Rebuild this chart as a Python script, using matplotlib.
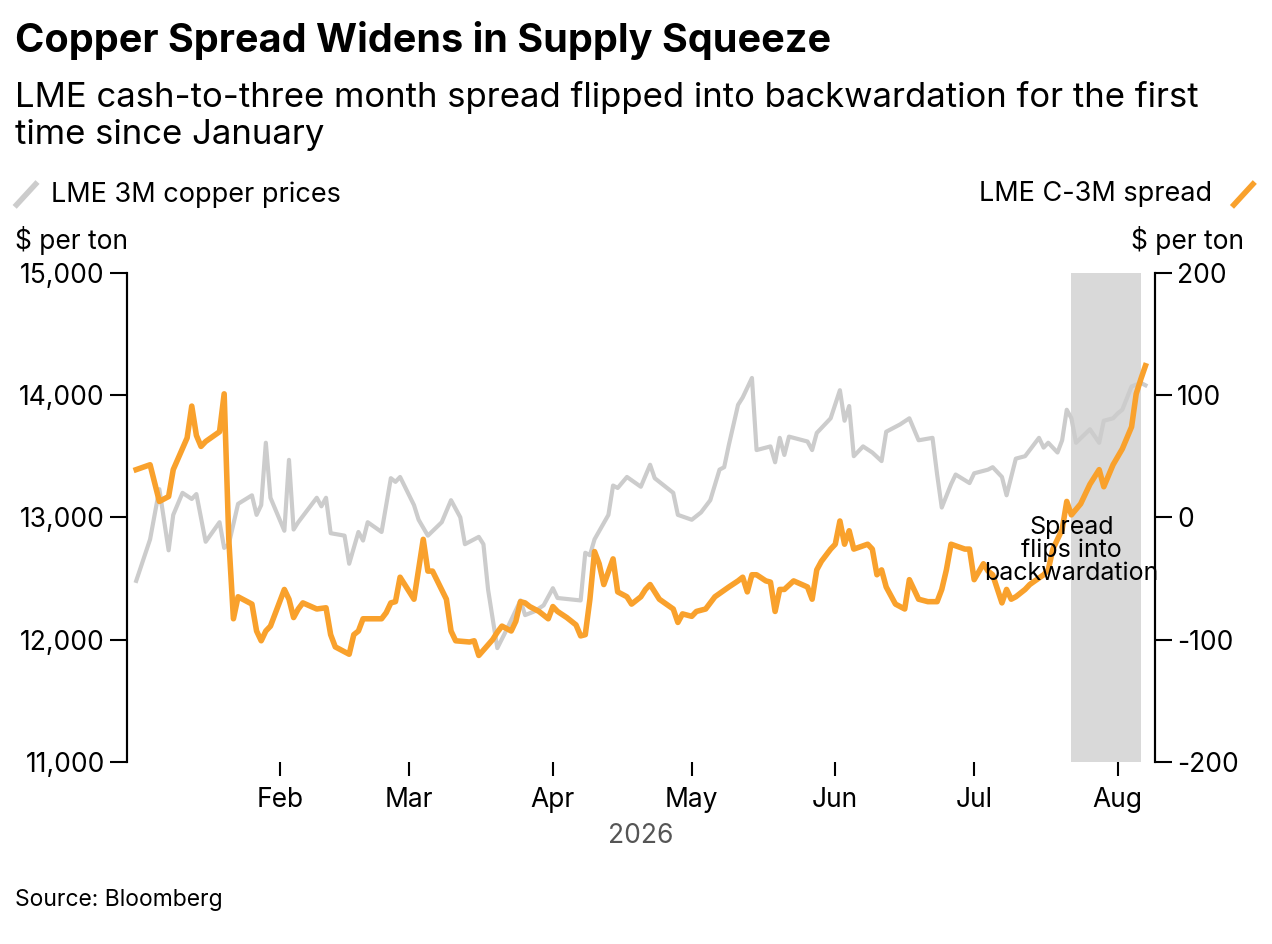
import datetime as dt
import matplotlib
matplotlib.use("Agg")
import matplotlib.pyplot as plt
import matplotlib.dates as mdates
from matplotlib.lines import Line2D

plt.rcParams['font.family'] = ['Inter', 'DejaVu Sans']
plt.rcParams['axes.unicode_minus'] = False

START = dt.date(2026, 1, 1)

# days since Jan 1, 2026 -> LME 3M copper price
price_days = [0, 3, 5, 7, 8, 10, 12, 13, 15, 18, 19, 20, 22, 25, 26, 27, 28, 29, 32, 33, 34, 35,
              39, 40, 41, 42, 45, 46, 48, 49, 50, 53, 55, 56, 57, 60, 61, 63, 66, 68, 70, 71, 74,
              75, 76, 78, 80, 81, 83, 84, 86, 88, 90, 91, 96, 97, 98, 99, 102, 103, 104, 106, 109,
              111, 112, 116, 117, 120, 122, 124, 126, 127, 128, 130, 131, 133, 134, 137, 138, 139,
              140, 141, 145, 146, 147, 150, 152, 153, 154, 155, 157, 159, 161, 162, 165, 167, 169,
              172, 173, 174, 176, 177, 180, 181, 184, 185, 187, 188, 190, 192, 195, 196, 197, 199,
              200, 201, 202, 203, 206, 208, 209, 211, 212, 213, 215, 217, 218]
price_vals = [12480, 12820, 13230, 12730, 13020, 13200, 13150, 13190, 12800, 12960, 12750, 12780,
              13110, 13180, 13020, 13100, 13610, 13160, 12890, 13470, 12900, 12960, 13160, 13090,
              13160, 12870, 12850, 12620, 12880, 12810, 12960, 12880, 13320, 13290, 13330, 13100,
              12980, 12850, 12960, 13140, 13000, 12780, 12840, 12780, 12410, 11930, 12080, 12160,
              12320, 12200, 12230, 12280, 12420, 12340, 12320, 12710, 12690, 12820, 13020, 13260,
              13240, 13330, 13250, 13430, 13320, 13200, 13020, 12980, 13040, 13140, 13390, 13410,
              13590, 13920, 13980, 14140, 13550, 13580, 13450, 13650, 13510, 13660, 13620, 13550,
              13690, 13810, 14040, 13790, 13910, 13500, 13580, 13530, 13460, 13700, 13760, 13810,
              13630, 13650, 13350, 13080, 13270, 13350, 13280, 13360, 13390, 13410, 13330, 13180,
              13480, 13500, 13650, 13570, 13610, 13530, 13630, 13880, 13810, 13610, 13720, 13610,
              13790, 13810, 13850, 13880, 14070, 14100, 14080]

# days since Jan 1, 2026 -> LME cash-to-three-month spread
spread_days = [0, 3, 5, 7, 8, 11, 12, 13, 14, 15, 18, 19, 20, 21, 22, 25, 26, 27, 28, 29, 32, 33,
               34, 35, 36, 39, 41, 42, 43, 46, 47, 48, 49, 53, 54, 55, 56, 57, 60, 62, 63, 64, 67,
               68, 69, 72, 73, 74, 77, 78, 79, 81, 82, 83, 84, 85, 87, 89, 90, 91, 93, 95, 96, 97,
               98, 99, 100, 101, 103, 104, 106, 107, 109, 110, 111, 113, 116, 117, 118, 120, 121,
               123, 125, 128, 130, 131, 132, 133, 134, 136, 137, 138, 139, 140, 142, 145, 146, 147,
               148, 150, 151, 152, 153, 154, 155, 158, 159, 160, 161, 162, 164, 166, 167, 169, 171,
               173, 174, 175, 176, 179, 180, 181, 183, 184, 185, 187, 188, 189, 190, 192, 193, 196,
               197, 198, 200, 201, 202, 204, 206, 208, 209, 211, 213, 215, 216, 217, 218]
spread_vals = [39, 43, 13, 17, 39, 65, 91, 67, 58, 62, 70, 101, -18, -83, -65, -71, -93, -101, -93,
               -89, -59, -67, -82, -75, -70, -75, -74, -96, -106, -112, -96, -93, -83, -83, -78,
               -70, -69, -49, -67, -18, -44, -44, -67, -93, -101, -102, -101, -113, -100, -94, -89,
               -93, -85, -69, -70, -73, -77, -83, -73, -77, -82, -88, -97, -96, -67, -28, -38, -55,
               -34, -61, -65, -71, -65, -59, -55, -67, -75, -86, -79, -81, -77, -75, -65, -57, -52,
               -49, -61, -47, -47, -52, -53, -77, -59, -59, -52, -57, -67, -43, -36, -26, -22, -3,
               -22, -11, -26, -22, -26, -47, -43, -57, -71, -75, -51, -67, -69, -69, -59, -43, -22,
               -26, -26, -51, -38, -44, -47, -70, -59, -67, -65, -59, -55, -47, -43, -26, -10, 13,
               2, 11, 27, 39, 25, 43, 56, 74, 101, 113, 124]

shade_start, shade_end = dt.date(2026, 7, 22), dt.date(2026, 8, 6)

GRAY = "#cccccc"
ORANGE = "#f9a12c"


def to_dates(days):
    return [START + dt.timedelta(days=d) for d in days]


fig = plt.figure(figsize=(12.72, 9.44), dpi=100)
ax = fig.add_axes([0.0998, 0.193, 0.808, 0.518])
ax2 = ax.twinx()

ax.axvspan(shade_start, shade_end, color="#d9d9d9", lw=0, zorder=0)
ax.plot(to_dates(price_days), price_vals, color=GRAY, lw=3, zorder=2)
ax2.plot(to_dates(spread_days), spread_vals, color=ORANGE, lw=4, zorder=3)

ax.set_ylim(11000, 15000)
ax2.set_ylim(-200, 200)
ax.set_yticks([11000, 12000, 13000, 14000, 15000])
ax.set_yticklabels(["11,000", "12,000", "13,000", "14,000", "15,000"])
ax2.set_yticks([-200, -100, 0, 100, 200])
ax.set_xlim(dt.date(2025, 12, 30), dt.date(2026, 8, 9))
ax.xaxis.set_major_locator(mdates.MonthLocator(bymonth=range(2, 9)))
ax.xaxis.set_major_formatter(mdates.DateFormatter("%b"))

for a in (ax, ax2):
    for s in ("top", "bottom"):
        a.spines[s].set_visible(False)
    a.spines["left"].set_linewidth(1.5)
    a.spines["right"].set_linewidth(1.5)
    a.tick_params(labelsize=19, length=12, width=1.5, pad=4, colors="black")
ax.tick_params(axis="x", length=10, pad=8)
ax2.set_zorder(ax.get_zorder() + 1)
ax2.patch.set_visible(False)

ax.text(0.5, -0.125, "2026", transform=ax.transAxes, ha="center", va="top",
        fontsize=19, color="#555555")

ax2.annotate("Spread\nflips into\nbackwardation", (dt.date(2026, 7, 22), -27),
             ha="center", va="center", fontsize=18, linespacing=1.0, zorder=5)

fig.text(0.012, 0.957, "Copper Spread Widens in Supply Squeeze", fontsize=28.5,
         fontweight="bold", va="center")
fig.text(0.012, 0.877, "LME cash-to-three month spread flipped into backwardation for the first\n"
         "time since January", fontsize=25, va="center", linespacing=1.2)

fig.add_artist(Line2D([0.013, 0.028], [0.783, 0.805], color=GRAY, lw=4,
                      transform=fig.transFigure))
fig.text(0.04, 0.794, "LME 3M copper prices", fontsize=19.5, va="center")
fig.add_artist(Line2D([0.970, 0.985], [0.783, 0.805], color=ORANGE, lw=4,
                      transform=fig.transFigure))
fig.text(0.953, 0.794, "LME C-3M spread", fontsize=19.5, va="center", ha="right")

fig.text(0.012, 0.745, "$ per ton", fontsize=19, va="center")
fig.text(0.978, 0.745, "$ per ton", fontsize=19, va="center", ha="right")
fig.text(0.012, 0.047, "Source: Bloomberg", fontsize=16.5, va="center")

fig.savefig("out.png", dpi=100)
